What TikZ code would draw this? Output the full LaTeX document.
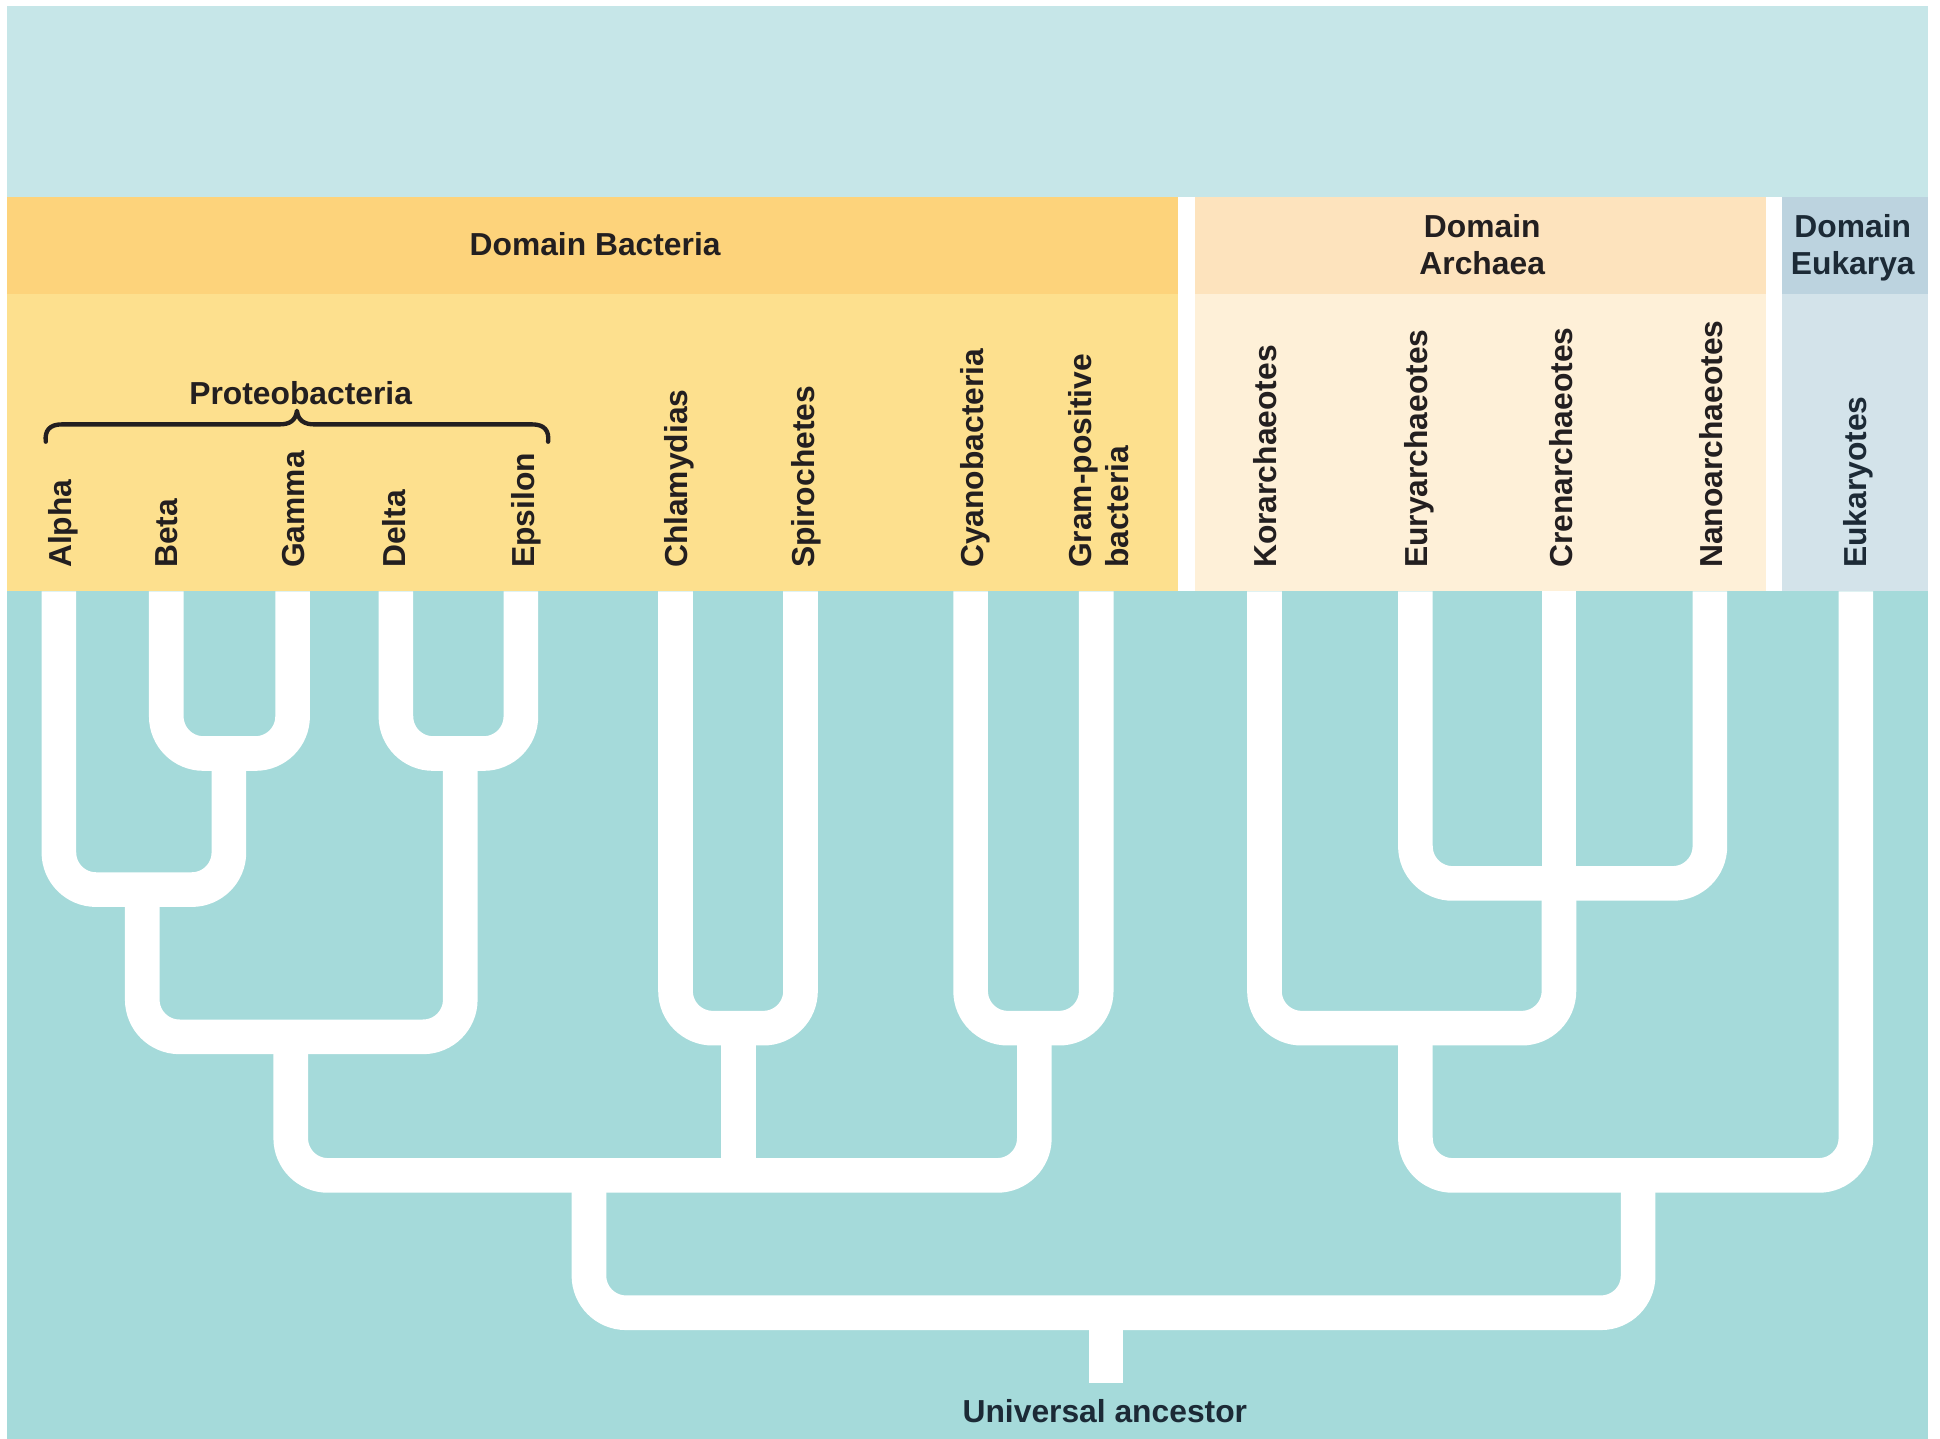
\documentclass[tikz,border=0pt]{standalone}
\usepackage{fontspec}
\setmainfont{Liberation Sans}
\definecolor{topblue}{HTML}{C6E6E8}
\definecolor{tealbg}{HTML}{A5DADA}
\definecolor{bacH}{HTML}{FDD37B}
\definecolor{bacL}{HTML}{FDE08E}
\definecolor{arcH}{HTML}{FDE3BD}
\definecolor{arcL}{HTML}{FEF0D8}
\definecolor{eukH}{HTML}{BCD3DF}
\definecolor{eukL}{HTML}{D3E3EA}
\definecolor{ink}{HTML}{231F20}
\definecolor{navy}{HTML}{1C2A36}
\begin{document}
\begin{tikzpicture}[x=1pt,y=-1pt,
  lbl/.style={font=\bfseries\fontsize{25.7}{30}\selectfont, text=ink, inner sep=0pt, outer sep=0pt},
  leaf/.style={lbl, rotate=90, anchor=base west},
  branch/.style={draw=white, line width=28pt, rounded corners=30pt, line cap=butt},
]
\useasboundingbox (0,0) rectangle (1568,1163);
\fill[white] (0,0) rectangle (1568,1163);
\fill[topblue] (5.4,5) rectangle (1558,159);
\fill[tealbg] (5.4,478) rectangle (1558,1163);
% domain panels
\fill[bacH] (5.4,159) rectangle (952,238);
\fill[bacL] (5.4,238) rectangle (952,478);
\fill[arcH] (966,159) rectangle (1427,238);
\fill[arcL] (966,238) rectangle (1427,478);
\fill[eukH] (1440,159) rectangle (1558,238);
\fill[eukL] (1440,238) rectangle (1558,478);

% headers
\node[lbl, anchor=base] (dbac) at (481,206.5) {Domain Bacteria};
\node[lbl, anchor=base] (darc1) at (1198,192) {Domain};
\node[lbl, anchor=base] (darc2) at (1198,222) {Archaea};
\node[lbl, anchor=base, text=navy] (deuk1) at (1497.5,192) {Domain};
\node[lbl, anchor=base, text=navy] (deuk2) at (1497.5,222) {Eukarya};
\node[lbl, anchor=base] (proteo) at (243,327) {Proteobacteria};

% brace
\draw[ink, line width=3.5pt, line cap=round, line join=round]
  (37,357) .. controls (36,348) and (40,343) .. (50,343) -- (226,343)
  .. controls (234,343) and (239,340) .. (240,332)
  .. controls (241,340) and (246,343) .. (254,343) -- (430,343)
  .. controls (440,343) and (444,348) .. (443,357);

% leaf labels
\node[leaf] (lAl) at (58,459) {Alpha};
\node[leaf] (lBe) at (143.5,459) {Beta};
\node[leaf] (lGa) at (246,459) {Gamma};
\node[leaf] (lDe) at (327.5,459) {Delta};
\node[leaf] (lEp) at (432,459) {Epsilon};
\node[leaf] (lCh) at (555.5,459) {Chlamydias};
\node[leaf] (lSp) at (658,459) {Spirochetes};
\node[leaf] (lCy) at (795,459) {Cyanobacteria};
\node[leaf] (lGr1) at (882,459) {Gram-positive};
\node[leaf] (lGr2) at (912,459) {bacteria};
\node[leaf] (lKo) at (1032,459) {Korarchaeotes};
\node[leaf] (lEu) at (1154,459) {Euryarchaeotes};
\node[leaf] (lCr) at (1271,459) {Crenarchaeotes};
\node[leaf] (lNa) at (1392,459) {Nanoarchaeotes};
\node[leaf, text=navy] (lEk) at (1508.5,459) {Eukaryotes};

% tree coordinates (tops of the leaf lines)
\coordinate (tAl) at (47.6,478);
\coordinate (tBe) at (134.4,478);
\coordinate (tGa) at (236.5,478);
\coordinate (tDe) at (320,478);
\coordinate (tEp) at (421,478);
\coordinate (tCh) at (546,478);
\coordinate (tSp) at (647,478);
\coordinate (tCy) at (784.5,478);
\coordinate (tGr) at (886,478);
\coordinate (tKo) at (1022,478);
\coordinate (tEu) at (1144,478);
\coordinate (tCr) at (1260,478);
\coordinate (tNa) at (1382,478);
\coordinate (tEk) at (1500,478);

% junctions
\coordinate (jBG) at (185,609);
\coordinate (jDE) at (372,609);
\coordinate (jABG) at (115,719);
\coordinate (jPro) at (235,838);
\coordinate (jCS) at (597,831);
\coordinate (jCG) at (836,831);
\coordinate (jBac) at (476,950);
\coordinate (jECN) at (1260,714);
\coordinate (jKor) at (1144,831);
\coordinate (jAE) at (1324,950);
\coordinate (jU) at (894,1061);
\coordinate (root) at (894,1118);

% branches
\draw[branch] (tBe) |- (tGa |- jBG) -- (tGa);
\draw[branch] (tDe) |- (tEp |- jDE) -- (tEp);
\draw[branch] (tAl) |- (jBG |- jABG) -- (jBG);
\draw[branch] (jABG) |- (jDE |- jPro) -- (jDE);
\draw[branch] (tCh) |- (tSp |- jCS) -- (tSp);
\draw[branch] (tCy) |- (tGr |- jCG) -- (tGr);
\draw[branch] (jPro) |- (jCG |- jBac) -- (jCG);
\draw[branch] (jCS) -- (jCS |- jBac);
\draw[branch] (tEu) |- (tNa |- jECN) -- (tNa);
\draw[branch] (tCr) -- (jECN);
\draw[branch] (tKo) |- (jECN |- jKor) -- (jECN);
\draw[branch] (jKor) |- (tEk |- jAE) -- (tEk);
\draw[branch] (jBac) |- (jAE |- jU) -- (jAE);
\draw[branch] (jU) -- (root);

\node[lbl, anchor=base, text=navy] (ua) at (893,1149.5) {Universal ancestor};
\end{tikzpicture}
\end{document}
